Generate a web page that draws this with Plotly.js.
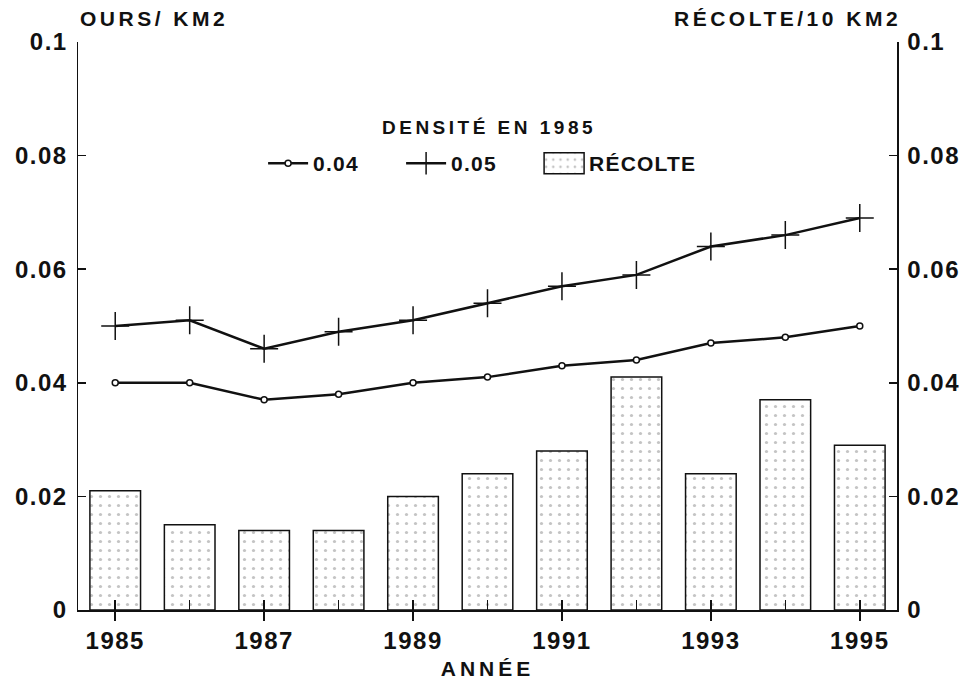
<!DOCTYPE html>
<html>
<head>
<meta charset="utf-8">
<script src="https://cdn.plot.ly/plotly-3.0.1.min.js"></script>
<style>
html,body{margin:0;padding:0;background:#fff;}
#chart{width:970px;height:687px;}
.xtick text, .ytick text, .y2tick text { letter-spacing: 1.5px; }
text.annotation-text { letter-spacing: 3.5px; }
text.xtitle { letter-spacing: 4px; }
text.legendtext { letter-spacing: 1.2px; }
</style>
</head>
<body>
<div id="chart"></div>
<script>
// ---- data ----
const years = [1985, 1986, 1987, 1988, 1989, 1990, 1991, 1992, 1993, 1994, 1995];
const density004 = [0.040, 0.040, 0.037, 0.038, 0.040, 0.041, 0.043, 0.044, 0.047, 0.048, 0.050];
const density005 = [0.050, 0.051, 0.046, 0.049, 0.051, 0.054, 0.057, 0.059, 0.064, 0.066, 0.069];
const harvest    = [0.021, 0.015, 0.014, 0.014, 0.020, 0.024, 0.028, 0.041, 0.024, 0.037, 0.029];
const xTickVals  = [1985, 1987, 1989, 1991, 1993, 1995];
const xTickText  = ['1985', '1987', '1989', '1991', '1993', '1995'];
const yTickVals  = [0, 0.02, 0.04, 0.06, 0.08, 0.1];
const yTickText  = ['0', '0.02', '0.04', '0.06', '0.08', '0.1'];
const seriesNames = ['0.04', '0.05', 'RÉCOLTE'];
const legendTitle = 'DENSITÉ EN 1985';

const FONT = 'Liberation Sans, Arial, Helvetica, sans-serif';
const INK = '#111';
const xRange = [1984.5, 1995.5];
const yRange = [0, 0.1];

const traces = [
  {
    type: 'bar', x: years, y: harvest, name: seriesNames[2],
    xaxis: 'x2', yaxis: 'y2', width: 0.68, legendrank: 3, legendwidth: 130,
    marker: {
      color: '#ffffff',
      line: {color: INK, width: 1.5},
      pattern: {shape: '.', fgcolor: '#c4c4c4', bgcolor: '#ffffff', size: 9, solidity: 0.1}
    },
    hoverinfo: 'x+y'
  },
  {
    type: 'scatter', mode: 'lines+markers', x: years, y: density004, name: seriesNames[0],
    xaxis: 'x', yaxis: 'y', legendrank: 1,
    line: {color: INK, width: 2.5},
    marker: {symbol: 'circle', size: 6, color: '#ffffff', line: {color: INK, width: 1.5}}
  },
  {
    type: 'scatter', mode: 'lines+markers', x: years, y: density005, name: seriesNames[1],
    xaxis: 'x', yaxis: 'y', legendrank: 2,
    line: {color: INK, width: 2.5},
    marker: {symbol: 'cross-thin', size: 20, color: INK, line: {color: INK, width: 1.5}}
  }
];

const tickFont = {family: FONT, size: 24, color: INK, weight: 'bold'};
const titleFont = {family: FONT, size: 21, color: INK, weight: 'bold'};

const layout = {
  width: 970, height: 687,
  margin: {l: 78, r: 73, t: 42, b: 77},
  paper_bgcolor: '#ffffff', plot_bgcolor: '#ffffff',
  font: {family: FONT, color: INK},
  showlegend: true,
  legend: {
    orientation: 'h', x: 0.226, xanchor: 'left', y: 0.822, yanchor: 'top',
    bgcolor: 'rgba(0,0,0,0)',
    font: {family: FONT, size: 21, color: INK, weight: 'bold'},
    itemwidth: 40, entrywidth: 83, entrywidthmode: 'pixels'
  },
  xaxis: {
    range: xRange, tickvals: xTickVals, ticktext: xTickText,
    ticks: 'outside', ticklen: 9, tickwidth: 1.5, tickcolor: INK,
    showline: true, linecolor: INK, linewidth: 1.5,
    showgrid: false, zeroline: false, tickfont: tickFont,
    title: {text: 'ANNÉE', font: titleFont, standoff: 8}
  },
  xaxis2: {
    range: xRange, overlaying: 'x', anchor: 'y2', side: 'bottom',
    tickmode: 'linear', tick0: 1985, dtick: 1,
    ticks: 'inside', ticklen: 10, tickwidth: 1.5, tickcolor: INK,
    showticklabels: false, showline: false, showgrid: false, zeroline: false
  },
  yaxis: {
    range: yRange, tickvals: yTickVals, ticktext: yTickText,
    ticks: 'inside', ticklen: 8, tickwidth: 1.5, tickcolor: INK,
    showline: true, linecolor: INK, linewidth: 1.5,
    showgrid: false, zeroline: false, tickfont: tickFont, ticklabelstandoff: 4
  },
  yaxis2: {
    range: yRange, tickvals: yTickVals, ticktext: yTickText,
    overlaying: 'y', side: 'right', anchor: 'x2',
    ticks: 'inside', ticklen: 8, tickwidth: 1.5, tickcolor: INK,
    showline: true, linecolor: INK, linewidth: 1.5,
    showgrid: false, zeroline: false, tickfont: tickFont, ticklabelstandoff: 4
  },
  annotations: [
    {text: 'OURS/ KM2', xref: 'paper', yref: 'paper', x: 0, y: 1, xanchor: 'left', yanchor: 'middle',
     yshift: 24, xshift: 0, showarrow: false, font: titleFont},
    {text: 'RÉCOLTE/10 KM2', xref: 'paper', yref: 'paper', x: 1, y: 1, xanchor: 'right', yanchor: 'middle',
     yshift: 24, xshift: 6, showarrow: false, font: titleFont},
    {text: legendTitle, xref: 'paper', yref: 'paper', x: 0.502, y: 0.85, xanchor: 'center', yanchor: 'middle',
     showarrow: false, font: {family: FONT, size: 19, color: INK, weight: 'bold'}}
  ]
};

Plotly.newPlot('chart', traces, layout, {displayModeBar: false, staticPlot: true}).then(function (gd) {
  // widen the bar swatch in the legend to the wide box of the reference
  gd.querySelectorAll('.legend .legendpoints path').forEach(function (p) {
    var d = (p.getAttribute('d') || '').replace(/\s/g, '');
    if (d === 'M6,6H-6V-6H6Z') p.setAttribute('d', 'M20,10.5H-20V-10.5H20Z');
  });
});
</script>
</body>
</html>
